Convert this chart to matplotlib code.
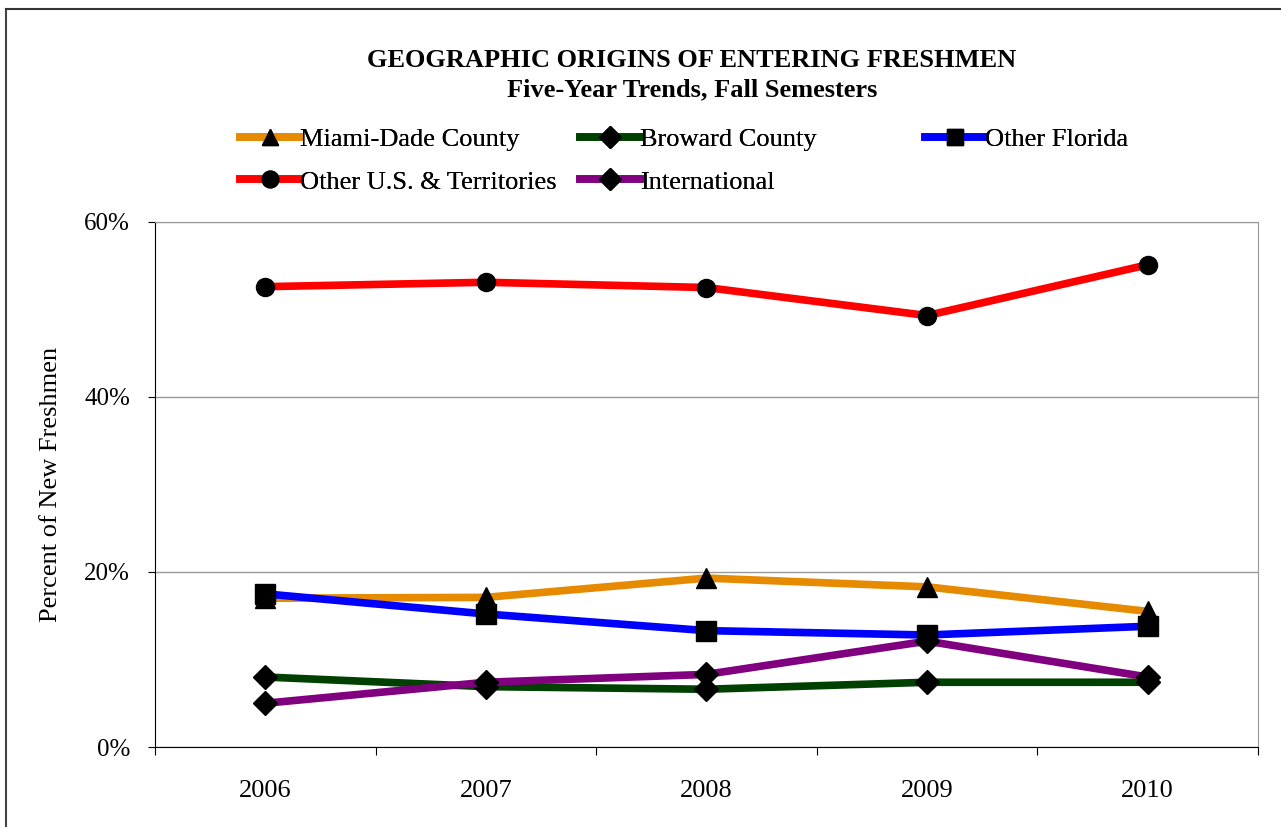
import matplotlib.pyplot as plt
import numpy as np
from matplotlib.lines import Line2D

years = ["2006", "2007", "2008", "2009", "2010"]

miami_dade = [17.0, 17.1, 19.3, 18.3, 15.5]
broward = [8.0, 6.9, 6.6, 7.4, 7.4]
other_florida = [17.5, 15.2, 13.3, 12.8, 13.8]
other_us = [52.6, 53.1, 52.5, 49.3, 55.1]
international = [5.0, 7.4, 8.3, 12.1, 8.0]

series = {
    "Miami-Dade County": (miami_dade, "#E68A00", "^"),
    "Broward County": (broward, "#004000", "D"),
    "Other Florida": (other_florida, "#0000FF", "s"),
    "Other U.S. & Territories": (other_us, "#FF0000", "o"),
    "International": (international, "#800080", "D"),
}

marker_sizes = {"^": 14, "D": 12, "s": 14, "o": 13}

plt.rcParams["font.family"] = ["Liberation Serif", "DejaVu Serif"]

fig = plt.figure(figsize=(12.81, 8.27), dpi=100)
ax = fig.add_axes([0.121, 0.0967, 0.861, 0.635])

x = np.arange(len(years))

draw_order = ["Miami-Dade County", "Other U.S. & Territories", "Other Florida",
              "Broward County", "International"]
for name in draw_order:
    vals, color, marker = series[name]
    ax.plot(
        x,
        vals,
        color=color,
        linewidth=5.5,
        marker=marker,
        markersize=marker_sizes[marker],
        markerfacecolor="black",
        markeredgecolor="black",
        zorder=3,
    )

ax.set_xlim(-0.5, len(years) - 0.5)
ax.set_ylim(0, 60)
ax.set_yticks([0, 20, 40, 60])
ax.set_yticklabels(["0%", "20%", "40%", "60%"], fontsize=18)
ax.set_xticks(np.arange(-0.5, len(years), 1.0))
ax.set_xticklabels([])
ax.set_xticks(x, minor=True)
ax.set_xticklabels(years, minor=True, fontsize=19)
ax.tick_params(axis="x", which="major", length=6, direction="out", color="black")
ax.tick_params(axis="x", which="minor", length=0, pad=24)
ax.tick_params(axis="y", length=5, direction="out", pad=13)

ax.yaxis.grid(True, color="#999999", linewidth=1)
ax.set_axisbelow(True)
for side in ["top", "right"]:
    ax.spines[side].set_color("#999999")
ax.spines["left"].set_color("black")
ax.spines["bottom"].set_color("black")

ax.set_ylabel("Percent of New Freshmen", fontsize=19, labelpad=16)

fig.text(0.54, 0.927, "GEOGRAPHIC ORIGINS OF ENTERING FRESHMEN",
         ha="center", va="center", fontsize=19, fontweight="bold")
fig.text(0.54, 0.892, "Five-Year Trends, Fall Semesters",
         ha="center", va="center", fontsize=19, fontweight="bold")

# legend in three fixed-width columns like the reference
legend_columns = [
    (0.1874, ["Miami-Dade County", "Other U.S. & Territories"]),
    (0.4528, ["Broward County", "International"]),
    (0.7221, ["Other Florida"]),
]
for x_anchor, names in legend_columns:
    hs = []
    for name in names:
        vals, color, marker = series[name]
        hs.append(Line2D([0], [0], color=color, linewidth=5.5, marker=marker,
                         markersize=11 if marker == "D" else 12,
                         markerfacecolor="black", markeredgecolor="black"))
    leg = fig.legend(
        hs,
        names,
        loc="upper left",
        bbox_to_anchor=(x_anchor, 0.846),
        frameon=False,
        fontsize=19,
        handlelength=2.27,
        handletextpad=0.0,
        labelspacing=0.73,
        borderpad=0,
        borderaxespad=0,
    )
    fig.add_artist(leg)

# outer border of the chart
fig.add_artist(Line2D([0.005, 0.005], [0.0, 0.989], color="#444444", linewidth=1.5,
                      transform=fig.transFigure))
fig.add_artist(Line2D([0.005, 1.0], [0.989, 0.989], color="#333333", linewidth=1.5,
                      transform=fig.transFigure))

fig.savefig("out.png", dpi=100)
